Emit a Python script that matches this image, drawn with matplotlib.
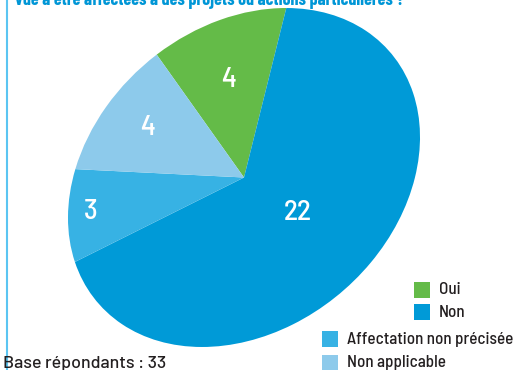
import matplotlib
matplotlib.use("Agg")
import matplotlib.pyplot as plt
import numpy as np
from matplotlib.transforms import Affine2D
from matplotlib.patches import Rectangle

categories = ["Oui", "Non", "Affectation non précisée", "Non applicable"]
values = [4, 22, 3, 4]
colors = ["#64BB48", "#009AD7", "#37B2E4", "#8DCAEB"]
title = "vue à être affectées à des projets ou actions particulières ?"
base_text = "Base répondants : 33"

W, H = 515, 370
fig = plt.figure(figsize=(W / 100, H / 100), dpi=100)
ax = fig.add_axes([0, 0, 1, 1])
ax.set_xlim(0, W)
ax.set_ylim(0, H)
ax.axis("off")

FONT = ["Barlow Semi Condensed", "DejaVu Sans"]
FONT2 = ["Barlow", "Barlow Semi Condensed", "DejaVu Sans"]
FONT3 = ["Barlow Condensed", "Barlow Semi Condensed", "DejaVu Sans"]

# Pie drawn in a unit circle then mapped to a tilted ellipse
tilt = Affine2D().scale(192.5, 150.5).rotate_deg(40.5).translate(244, 192.5)
wedges, _ = ax.pie(values, colors=colors, startangle=86, counterclock=False,
                   radius=1, center=(0, 0), wedgeprops=dict(linewidth=0))
for w in wedges:
    w.set_transform(tilt + ax.transData)
ax.set_xlim(0, W)
ax.set_ylim(0, H)
ax.set_aspect("auto")

label_r = [0.62, 0.42, 0.87, 0.70]
total = sum(values)
ang = 86.0
for v, r in zip(values, label_r):
    span = v / total * 360
    mid = np.deg2rad(ang - span / 2)
    ang -= span
    x, y = tilt.transform((r * np.cos(mid), r * np.sin(mid)))
    ax.text(x, y, str(v), color="white", fontsize=21, fontweight=500,
            family=FONT, ha="center", va="center")

# Title, cut at the top
ax.text(15, H - 5, title, color="#0096D6", fontsize=13, fontweight="bold",
        family=FONT3, ha="left", va="baseline")

# Left border line
ax.plot([7, 7], [0, H], color="#5BC5F2", linewidth=1.5, solid_capstyle="butt")

# Legend
leg_pos = [(414, 289.5), (414, 312), (322, 339), (322, 362.5)]
for (lx, ly), c, name in zip(leg_pos, colors, categories):
    ax.add_patch(Rectangle((lx, H - ly - 8), 16, 16, color=c, linewidth=0))
    ax.text(lx + 25, H - ly - 0.5, name, color="#231F20", fontsize=12.3,
            fontweight=500, family=FONT, ha="left", va="center")

ax.text(3, H - 368, base_text, color="#231F20", fontsize=12.8, fontweight=500,
        family=FONT2, ha="left", va="baseline")

fig.savefig("out.png", dpi=100)
